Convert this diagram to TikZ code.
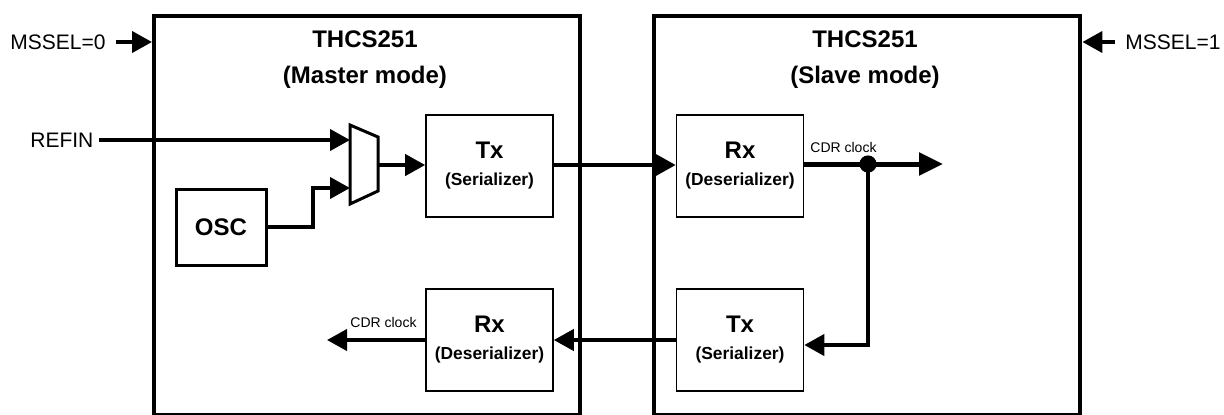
\documentclass[tikz,border=0pt]{standalone}
\usepackage{fontspec}
\setmainfont{Liberation Sans}
\usetikzlibrary{arrows.meta}
\begin{document}
\begin{tikzpicture}[x=0.5pt,y=-0.5pt,
  chip/.style={draw,line width=2.2pt,anchor=north west,inner sep=0pt,minimum width=213pt,minimum height=199.5pt},
  blk/.style={draw,line width=0.8pt,inner sep=0pt,minimum width=63.5pt,minimum height=51pt,align=center},
  title/.style={font=\fontsize{12}{18}\selectfont\bfseries,align=center},
  lbl/.style={font=\fontsize{10.5}{12}\selectfont,inner ysep=0pt,inner xsep=5pt},
  small/.style={font=\fontsize{7}{8}\selectfont,inner sep=0pt},
  wire/.style={line width=2pt},
  arr/.style={wire,-{Triangle[length=10pt,width=10.5pt]}},
  bigarr/.style={line width=2.5pt,-{Triangle[length=12pt,width=11pt]}}]
\useasboundingbox (0,0) rectangle (1224,414);
\newcommand{\blktext}[2]{{\fontsize{12}{14}\selectfont\bfseries #1}\\[1.5pt]{\fontsize{8.7}{10}\selectfont\bfseries #2}}
% chips
\node[chip] (master) at (152,14) {};
\node[chip] (slave) at (652,14) {};
\node[title] (mtitle) at (365,60) {THCS251\\(Master mode)};
\node[title] (stitle) at (865,60) {THCS251\\(Slave mode)};
% mode select
\node[lbl,anchor=west] (ms0) at (0,42) {MSSEL=0};
\node[lbl,anchor=west] (ms1) at (1115,42) {MSSEL=1};
\draw[arr] (ms0.east) -- (master.west |- ms0.east);
\draw[arr] (ms1.west) -- (slave.east |- ms1.west);
% master blocks
\node[draw,line width=1.5pt,minimum width=45pt,minimum height=38pt,inner sep=0pt,font=\fontsize{12}{14}\selectfont\bfseries] (osc) at (221,227) {OSC};
\draw[line width=1.5pt,line join=miter] (350,125) -- (378,137) -- (378,191) -- (350,204) -- cycle;
\coordinate (muxin1) at (350,140);
\coordinate (muxin2) at (350,188);
\coordinate (muxout) at (378,165);
\node[blk] (mtx) at (489.5,166) {\blktext{Tx}{(Serializer)}};
\node[blk] (mrx) at (489.5,340) {\blktext{Rx}{(Deserializer)}};
% slave blocks
\node[blk] (srx) at (740,166) {\blktext{Rx}{(Deserializer)}};
\node[blk] (stx) at (740,340) {\blktext{Tx}{(Serializer)}};
% REFIN
\node[lbl,anchor=west,inner xsep=2.5pt] (refin) at (25,140) {REFIN};
\draw[arr] (refin.east) -- (muxin1);
\draw[arr] (osc.east) -- (313,227) -- (313,188) -- (muxin2);
\draw[arr] (muxout) -- (mtx.west |- muxout);
% serial links
\coordinate (link) at (553,165);
\draw[arr] (mtx.east |- link) -- (srx.west |- link);
\coordinate (dot) at (868,164);
\coordinate (clkout) at (943,164);
\draw[bigarr] (srx.east |- dot) -- (clkout);
\fill (dot) circle (4.3pt);
\draw[arr] (dot) -- (868,345) -- (stx.east |- 0,345);
\node[small,anchor=south west] (cdr1) at (810,153) {CDR clock};
\coordinate (stxout) at (676,340);
\draw[arr] (stx.west |- stxout) -- (mrx.east |- stxout);
\coordinate (clkout2) at (327,340);
\draw[arr] (mrx.west |- clkout2) -- (clkout2);
\node[small,anchor=south west] (cdr2) at (350,328) {CDR clock};
\end{tikzpicture}
\end{document}
